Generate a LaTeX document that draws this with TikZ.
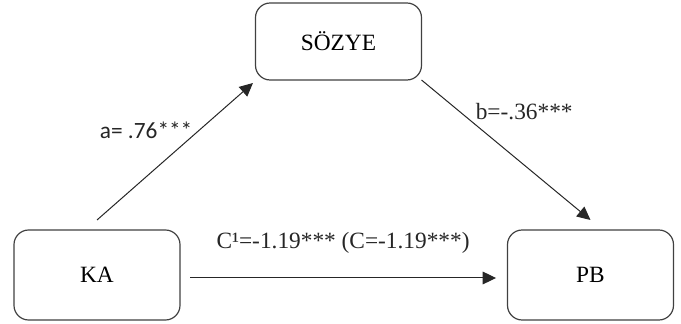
\documentclass[tikz,border=0pt]{standalone}
\usepackage{fontspec}
\setmainfont{Liberation Serif}
\newfontfamily\calibrifont{Carlito}
\usetikzlibrary{arrows.meta}

\begin{document}
\begin{tikzpicture}[x=0.75pt,y=0.75pt,
    font=\fontsize{17.5}{20}\selectfont,
    arr/.style={-{Triangle[length=10pt,width=9.5pt]},line width=0.75pt,black!85}]

      \useasboundingbox (0,0) rectangle (681,324);

      \begin{scope}[every node/.style={draw=black!75,line width=0.9pt,rounded corners=11pt,
          inner sep=0pt,outer sep=0pt,minimum width=124.5pt,minimum height=67.5pt}]
        \node (sozye) at (338.5,282.5) [minimum height=57.75pt] {SÖZYE};
        \node (ka)    at (97,49)     {KA};
        \node (pb)    at (590.5,49)  {PB};
      \end{scope}

      \begin{scope}[every edge/.style={draw,arr}]
        \path ([yshift=7.5pt]ka.north) edge node[pos=0.657,xshift=-40pt] (alabel) {\calibrifont a= .76***}
          ([shift={(-1.9pt,-2.25pt)}]sozye.south west);
        \path (sozye.south east) edge node[pos=0.229,xshift=48pt] (blabel) {b=-.36***}
          ([yshift=7.5pt]pb.north);
        \path ([shift={(7.5pt,-2.25pt)}]ka.east) edge node[pos=0.5,yshift=26.25pt] (clabel) {C¹=-1.19*** (C=-1.19***)}
          ([shift={(-8.6pt,-2.25pt)}]pb.west);
      \end{scope}

    \end{tikzpicture}
\end{document}
